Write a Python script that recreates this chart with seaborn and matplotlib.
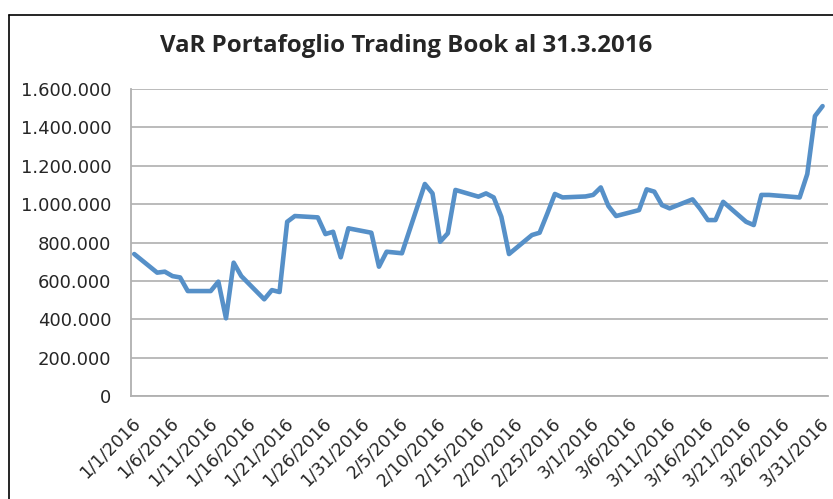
import pandas as pd
import matplotlib.pyplot as plt
import matplotlib.ticker as mticker
from matplotlib.lines import Line2D
import seaborn as sns

# --- Data ---
dates = ['2016-01-01', '2016-01-04', '2016-01-05', '2016-01-06', '2016-01-07', '2016-01-08',
         '2016-01-11', '2016-01-12', '2016-01-13', '2016-01-14', '2016-01-15',
         '2016-01-18', '2016-01-19', '2016-01-20', '2016-01-21', '2016-01-22',
         '2016-01-25', '2016-01-26', '2016-01-27', '2016-01-28', '2016-01-29',
         '2016-02-01', '2016-02-02', '2016-02-03', '2016-02-04', '2016-02-05',
         '2016-02-08', '2016-02-09', '2016-02-10', '2016-02-11', '2016-02-12',
         '2016-02-15', '2016-02-16', '2016-02-17', '2016-02-18', '2016-02-19',
         '2016-02-22', '2016-02-23', '2016-02-24', '2016-02-25', '2016-02-26',
         '2016-02-29', '2016-03-01', '2016-03-02', '2016-03-03', '2016-03-04',
         '2016-03-07', '2016-03-08', '2016-03-09', '2016-03-10', '2016-03-11',
         '2016-03-14', '2016-03-15', '2016-03-16', '2016-03-17', '2016-03-18',
         '2016-03-21', '2016-03-22', '2016-03-23', '2016-03-24',
         '2016-03-28', '2016-03-29', '2016-03-30', '2016-03-31']
var_values = [740000, 643000, 648000, 625000, 618000, 547000,
              547000, 596000, 405000, 695000, 625000,
              504000, 552000, 542000, 908000, 938000,
              931000, 844000, 856000, 723000, 874000,
              851000, 674000, 752000, 748000, 744000,
              1105000, 1056000, 804000, 848000, 1074000,
              1039000, 1056000, 1035000, 934000, 740000,
              839000, 851000, 950000, 1053000, 1035000,
              1040000, 1048000, 1087000, 990000, 938000,
              969000, 1077000, 1065000, 995000, 978000,
              1025000, 975000, 917000, 917000, 1012000,
              908000, 891000, 1048000, 1048000,
              1035000, 1157000, 1459000, 1511000]
title = 'VaR Portafoglio Trading Book al 31.3.2016'

df = pd.DataFrame({'Data': pd.to_datetime(dates), 'VaR': var_values})
# the original chart draws each point a bit after its tick mark
df['Data'] = df['Data'] + pd.Timedelta(hours=10)

sns.set_style("white")
plt.rcParams['font.family'] = ['DejaVu Sans']

fig = plt.figure(figsize=(8.33, 4.99), dpi=100)
ax = fig.add_axes([0.1573, 0.2064, 0.8367, 0.6152])

sns.lineplot(x='Data', y='VaR', data=df, ax=ax, color='#5690C8', linewidth=3.3)

# Axes limits and ticks
ax.set_ylim(0, 1600000)
ax.set_yticks(range(0, 1600001, 200000))
ax.yaxis.set_major_formatter(mticker.FuncFormatter(lambda v, p: f'{int(v):,}'.replace(',', '.')))

ax.set_xlim(pd.Timestamp('2016-01-01'), pd.Timestamp('2016-03-31') + pd.Timedelta(hours=27))
tick_dates = pd.date_range('2016-01-01', '2016-03-31', freq='5D')
ax.set_xticks(tick_dates)
ax.set_xticklabels([f'{d.month}/{d.day}/{d.year}' for d in tick_dates],
                   rotation=45, ha='right', rotation_mode='anchor', fontsize=12.5)
ax.tick_params(axis='y', labelsize=13, length=8, width=1.2, color='#B0B0B0', pad=6)
ax.tick_params(axis='x', length=7, width=1.2, color='#B0B0B0', pad=6)

ax.grid(axis='y', color='#B5B5B5', linewidth=1.3)
ax.grid(axis='x', visible=False)
for side in ['top', 'right']:
    ax.spines[side].set_visible(False)
for side in ['left', 'bottom']:
    ax.spines[side].set_color('#B0B0B0')
    ax.spines[side].set_linewidth(1.3)
ax.set_xlabel('')
ax.set_ylabel('')

# Title
fig.text(0.487, 0.908, title, ha='center', va='center', fontsize=17.3,
         fontweight='bold', family=['Open Sans', 'DejaVu Sans'])

# Outer chart frame (top and left edges visible)
fig.add_artist(Line2D([9 / 833, 1.0], [1 - 15 / 499, 1 - 15 / 499], color='black', linewidth=1.2))
fig.add_artist(Line2D([9 / 833, 9 / 833], [0.0, 1 - 15 / 499], color='black', linewidth=1.2))

plt.savefig('out.png', dpi=100)
